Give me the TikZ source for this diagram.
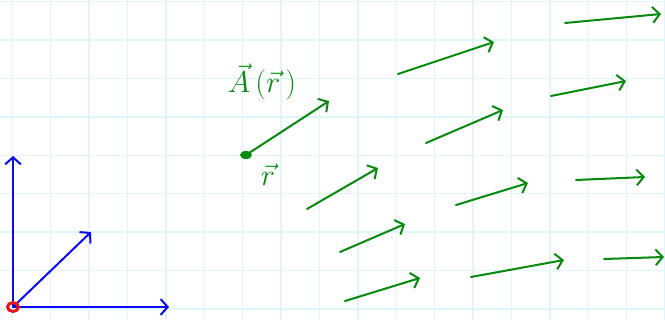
\documentclass[tikz,border=0pt]{standalone}
\usepackage{xcolor}
\usepackage{tikz}
\usetikzlibrary{arrows.meta}
\definecolor{gridcyan}{HTML}{DFF6FB}
\definecolor{field}{HTML}{088A0E}
\definecolor{axis}{HTML}{0A0AF5}
\definecolor{origin}{HTML}{E8141B}

\begin{document}
\begin{tikzpicture}[
    x=0.02cm, y=-0.02cm,
    gridline/.style={draw=gridcyan, line width=0.8pt},
    vec/.style={draw=#1, line width=1.15pt, line cap=round,
                -{Straight Barb[length=4pt, width=9pt, line width=1.15pt]}},
    lbl/.style={text=field, font=\fontsize{17}{20}\selectfont}
]
\useasboundingbox (0,0) rectangle (665,320);

% squared paper
\foreach \i in {0,...,17}
  \draw[gridline] ({12.3+38.4*\i},0) -- ++(0,320);
\foreach \j in {0,...,8}
  \draw[gridline] (0,{1.7+38.4*\j}) -- ++(665,0);

% axes
\coordinate (o) at (13,307);
\coordinate (ey) at (13,156);
\coordinate (ex) at (169,307);
\coordinate (ed) at (91,232);
\draw[vec=axis] (o) -- (ey);
\draw[vec=axis] (o) -- (ex);
\draw[vec=axis] (o) -- (ed);
\draw[origin, line width=1.7pt] (o) ellipse (5.5 and 4.5);

% field point and its vector
\coordinate (r) at (246,155);
\coordinate (Ar) at (329,101);
\fill[field] (r) ellipse (6 and 4);
\draw[vec=field] (r) -- (Ar);
\node[lbl] (Alab) at (262,82) {$\vec{A}\,(\vec{r}\,)$};
\node[lbl] (rlab) at (268,175) {$\vec{r}$};

% vector field
\foreach \sx/\sy/\ex/\ey in {398/74/494/42, 565/23/661/14,
    426/143/503/110, 551/96/626/81, 307/209/378/168,
    456/205/528/183, 576/180/645/177, 340/252/405/224,
    345/301/420/278, 471/277/564/260, 604/259/664/257}
  \draw[vec=field] (\sx,\sy) -- (\ex,\ey);

\end{tikzpicture}
\end{document}
